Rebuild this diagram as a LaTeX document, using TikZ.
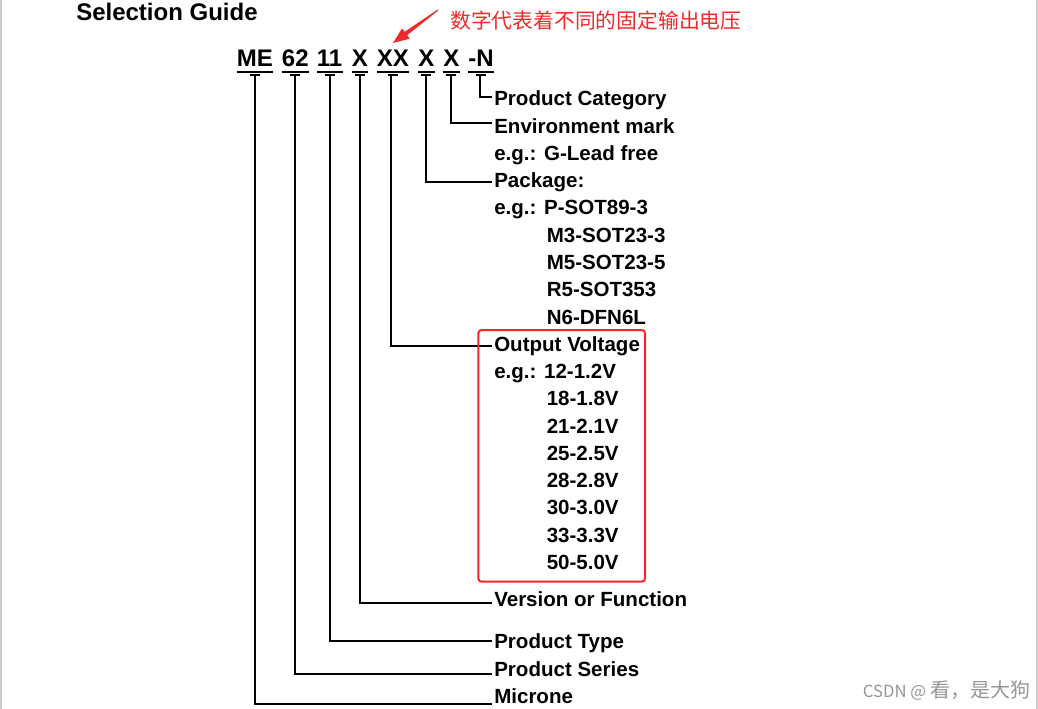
\documentclass[tikz,border=0pt]{standalone}
\usepackage{fontspec}
\setmainfont{Liberation Sans}
\newfontfamily\cjk{Noto Sans CJK SC}
\usetikzlibrary{calc}
\definecolor{annred}{RGB}{238,42,42}
\definecolor{boxred}{RGB}{240,40,40}
\definecolor{wmgray}{RGB}{150,150,150}
\definecolor{edgegray}{RGB}{205,205,205}
\begin{document}
\begin{tikzpicture}[x=0.75pt,y=-0.75pt,
  lbl/.style={anchor=base west, inner sep=0pt, font=\fontsize{15.4}{18}\selectfont\bfseries},
  codegrp/.style={anchor=base west, inner sep=0pt, font=\fontsize{18}{21}\selectfont\bfseries},
  conn/.style={line width=1.5pt, line join=miter},
  uline/.style={line width=1.5pt}]
\useasboundingbox (0,0) rectangle (1038,709);
\fill[white] (0,0) rectangle (1038,709);
% page edges
\draw[edgegray, line width=1.5pt] (1,0) -- (1,709);
\draw[edgegray, line width=1pt] (1037,0) -- (1037,709);

% title
\node[anchor=base west, inner sep=0pt, font=\fontsize{18}{21}\selectfont\bfseries] (title) at (76,20.5) {Selection Guide};

% part code groups
\node[codegrp] (gME) at (236.7,66.7) {ME};
\node[codegrp] (g62) at (281.7,66.7) {62};
\node[codegrp] (g11) at (316.7,66.7) {11};
\node[codegrp] (gV)  at (351.7,66.7) {X};
\node[codegrp] (gOV) at (376.7,66.7) {XX};
\node[codegrp] (gPk) at (418,66.7) {X};
\node[codegrp] (gEn) at (443,66.7) {X};
\node[codegrp] (gN)  at (468,66.7) {-N};
\foreach \g in {gME,g62,g11,gV,gOV,gPk,gEn,gN}{
  \draw[uline] ($(\g.base west)+(0,5)$) -- ($(\g.base east)+(0,5)$);
  \draw[uline] ($(\g.base)+(-5,8.5)$) -- ($(\g.base)+(5,8.5)$);
}

% labels
\node[lbl] (pc)  at (494,106) {Product Category};
\node[lbl] (em)  at (494,133.25) {Environment mark};
\node[lbl] (em1) at (494,160.5) {e.g.: G-Lead free};
\node[lbl] (pk)  at (494,187.75) {Package:};
\node[lbl] (pk1) at (494,215) {e.g.: P-SOT89-3};
\node[lbl] (pk2) at (546.5,242.25) {M3-SOT23-3};
\node[lbl] (pk3) at (546.5,269.5) {M5-SOT23-5};
\node[lbl] (pk4) at (546.5,296.75) {R5-SOT353};
\node[lbl] (pk5) at (546.5,324) {N6-DFN6L};
\node[lbl] (ov)  at (494,351.25) {Output Voltage};
\node[lbl] (ov1) at (494,378.5) {e.g.: 12-1.2V};
\node[lbl] (ov2) at (546.5,405.75) {18-1.8V};
\node[lbl] (ov3) at (546.5,433) {21-2.1V};
\node[lbl] (ov4) at (546.5,460.25) {25-2.5V};
\node[lbl] (ov5) at (546.5,487.5) {28-2.8V};
\node[lbl] (ov6) at (546.5,514.75) {30-3.0V};
\node[lbl] (ov7) at (546.5,542) {33-3.3V};
\node[lbl] (ov8) at (546.5,569.25) {50-5.0V};
\node[lbl] (vf)  at (494,606) {Version or Function};
\node[lbl] (pt)  at (494,648) {Product Type};
\node[lbl] (ps)  at (494,676) {Product Series};
\node[lbl] (mi)  at (494,703) {Microne};

% connectors
\draw[conn] ($(gN.base)+(-1,8.5)$)  |- ($(pc.base west)+(-2,-9.3)$);
\draw[conn] ($(gEn.base)+(0,8.5)$)  |- ($(em.base west)+(-2,-9.8)$);
\draw[conn] ($(gPk.base)+(0,8.5)$)  |- ($(pk.base west)+(-2,-6)$);
\draw[conn] ($(gOV.base)+(-1.5,8.5)$) |- ($(ov.base west)+(-2,-5.5)$);
\draw[conn] ($(gV.base)+(0,8.5)$)   |- ($(vf.base west)+(-2,-3)$);
\draw[conn] ($(g11.base)+(0,8.5)$)  |- ($(pt.base west)+(-2,-7)$);
\draw[conn] ($(g62.base)+(0,8.5)$)  |- ($(ps.base west)+(-2,-2)$);
\draw[conn] ($(gME.base)+(0,8.5)$)  |- ($(mi.base west)+(-2,1)$);

% red highlight box
\draw[boxred, line width=1.5pt, rounded corners=2.5pt] (478.3,330) rectangle (645,581.7);

% annotation
\node[anchor=west, inner sep=0pt, text=annred, font=\cjk\fontsize{15.6}{18}\selectfont] (ann) at (450,21) {数字代表着不同的固定输出电压};
\coordinate (atail) at (438,10);
\coordinate (atip) at (393,43);
\coordinate (hb) at ($(atip)!12pt!(atail)$);
\fill[annred] ($(atail)!0.4pt!90:(atip)$) -- ($(hb)!1.6pt!90:(atip)$) -- ($(hb)!4.8pt!90:(atip)$) -- (atip)
  -- ($(hb)!4.8pt!-90:(atip)$) -- ($(hb)!1.6pt!-90:(atip)$) -- ($(atail)!0.4pt!-90:(atip)$) -- cycle;

% watermark
\node[anchor=west, inner sep=0pt, text=wmgray] (wm) at (862.7,690.5) {\cjk{\fontsize{12.5}{14}\selectfont CSDN @}\hspace{3pt}{\fontsize{15}{18}\selectfont 看，是大狗}};
\end{tikzpicture}
\end{document}
